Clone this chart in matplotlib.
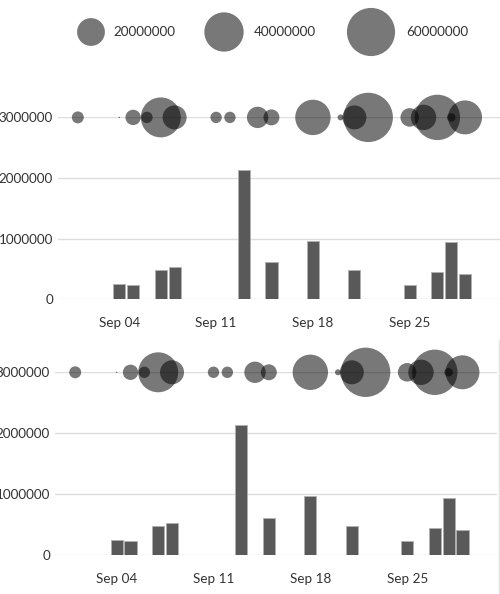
import matplotlib
matplotlib.use("Agg")
import matplotlib.pyplot as plt
import matplotlib.dates as mdates
import pandas as pd
import numpy as np

plt.rcParams['font.family'] = ['Lato', 'DejaVu Sans']

# ---- data ----
bubble_dates = ["2018-09-01", "2018-09-04", "2018-09-05", "2018-09-06", "2018-09-07",
                "2018-09-08", "2018-09-11", "2018-09-12", "2018-09-14", "2018-09-15",
                "2018-09-18", "2018-09-20", "2018-09-21", "2018-09-22", "2018-09-25",
                "2018-09-26", "2018-09-27", "2018-09-28", "2018-09-29"]
bubble_values = [3.7e6, 0.05e6, 6.1e6, 3.36e6, 41.3e6, 14.9e6, 3.36e6, 3.36e6, 11.8e6,
                 6.6e6, 32.4e6, 0.93e6, 14.9e6, 63.0e6, 8.9e6, 16.7e6, 53.3e6, 1.9e6, 29.9e6]
bubble_level = 3000000

bar_dates = ["2018-09-04", "2018-09-05", "2018-09-07", "2018-09-08", "2018-09-13",
             "2018-09-15", "2018-09-18", "2018-09-21", "2018-09-25", "2018-09-27",
             "2018-09-28", "2018-09-29"]
bar_values = [250000, 236000, 478000, 527000, 2137000, 610000, 967000, 478000,
              236000, 445000, 940000, 412000]

legend_values = [20000000, 40000000, 60000000]
y_ticks = [0, 1000000, 2000000, 3000000]
x_ticks = ["2018-09-04", "2018-09-11", "2018-09-18", "2018-09-25"]

# ---- style ----
W, H = 500, 594
DPI = 100
SIZE_PER_VALUE = (2 * 13.9 * 72 / DPI) ** 2 / 20000000  # pt^2 per unit value
BUBBLE_COLOR = (0, 0, 0, 0.53)
BAR_COLOR = "#595959"
GRID_COLOR = "#dddddd"
TEXT_COLOR = "#333333"
FS = 9.7

fig = plt.figure(figsize=(W / DPI, H / DPI), dpi=DPI)

bdates = mdates.date2num(pd.to_datetime(bubble_dates))
rdates = mdates.date2num(pd.to_datetime(bar_dates))
tdates = mdates.date2num(pd.to_datetime(x_ticks))

px_per_day = 13.83
ax_width_px = 442


def panel(left_px, zero_px, top_px, sep04_px):
    ax = fig.add_axes([left_px / W, 1 - zero_px / H, ax_width_px / W, (zero_px - top_px) / H])
    x0 = tdates[0] - (sep04_px - left_px) / px_per_day
    ax.set_xlim(x0, x0 + ax_width_px / px_per_day)
    ax.set_ylim(0, 3000000)
    ax.bar(rdates, bar_values, width=0.88, color=BAR_COLOR, edgecolor="#b0b0b0",
           linewidth=0.6, zorder=2)
    ax.scatter(bdates, [bubble_level] * len(bdates),
               s=np.array(bubble_values) * SIZE_PER_VALUE,
               color=BUBBLE_COLOR, edgecolors="none", clip_on=False, zorder=3)
    ax.set_yticks(y_ticks)
    ax.set_yticklabels([str(v) for v in y_ticks])
    ax.set_xticks(tdates)
    ax.set_xticklabels([pd.Timestamp(d).strftime("%b %d") for d in x_ticks])
    ax.grid(axis="y", color=GRID_COLOR, linewidth=1, zorder=0)
    ax.set_axisbelow(True)
    for s in ax.spines.values():
        s.set_visible(False)
    ax.tick_params(axis="y", length=0, pad=3.6, labelsize=FS, labelcolor=TEXT_COLOR)
    ax.tick_params(axis="x", length=0, pad=13, labelsize=FS, labelcolor=TEXT_COLOR)
    ax.patch.set_alpha(0)
    return ax


panel(58, 299.3, 117.4, 119.3)
panel(55, 555.0, 372.3, 116.7)

# overlay for legend and border, in pixel coordinates
ov = fig.add_axes([0, 0, 1, 1], zorder=-1)
ov.set_xlim(0, W)
ov.set_ylim(H, 0)
ov.axis("off")
leg_cx = [91, 224, 371]
leg_tx = [113, 254, 406]
for v, cx, tx in zip(legend_values, leg_cx, leg_tx):
    ov.scatter([cx], [32], s=v * SIZE_PER_VALUE, color=BUBBLE_COLOR, edgecolors="none")
    ov.text(tx, 32, str(v), ha="left", va="center", fontsize=FS, color=TEXT_COLOR)
ov.plot([499, 499], [340, H], color="#e3e3e3", linewidth=1)

fig.savefig("out.png", dpi=DPI)
